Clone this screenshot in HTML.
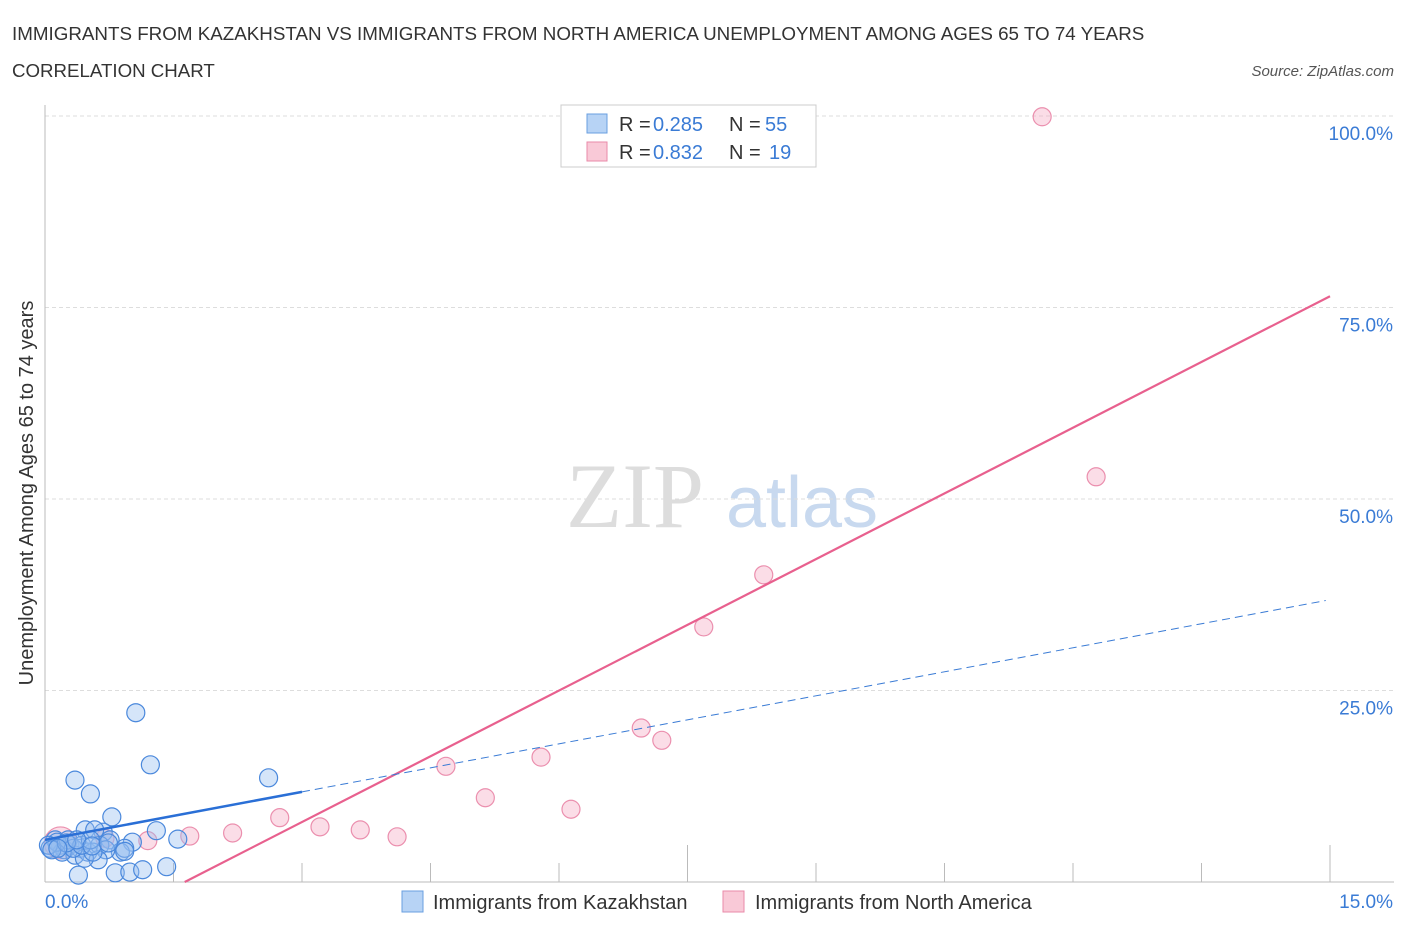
<!DOCTYPE html>
<html><head><meta charset="utf-8"><style>
body{margin:0;background:#fff;font-family:"Liberation Sans",sans-serif;}
</style></head><body>
<svg id="chart" width="1406" height="930" xmlns="http://www.w3.org/2000/svg" font-family="Liberation Sans, sans-serif">
<text x="12" y="40" font-size="18.8" fill="#333">IMMIGRANTS FROM KAZAKHSTAN VS IMMIGRANTS FROM NORTH AMERICA UNEMPLOYMENT AMONG AGES 65 TO 74 YEARS</text>
<text x="12" y="77" font-size="18.7" fill="#333">CORRELATION CHART</text>
<text x="1394" y="76" font-size="15" fill="#555" font-style="italic" text-anchor="end">Source: ZipAtlas.com</text>
<g>
<text x="635" y="527" font-size="92" fill="#ddd" font-family="Liberation Serif, serif" text-anchor="middle">ZIP</text>
<text x="802" y="527" font-size="72" fill="#c8d9ef" text-anchor="middle">atlas</text>
</g>
<g id="grid"></g>
<g id="axes"></g>
<g id="marks"></g>
<text transform="translate(33,493) rotate(-90)" font-size="20" fill="#333" text-anchor="middle">Unemployment Among Ages 65 to 74 years</text>
<g>
<rect x="561" y="105" width="255" height="62" fill="#fff" stroke="#ccc"/>
<rect x="587" y="114" width="20" height="19" fill="#b7d3f5" stroke="#6a9fe0"/>
<rect x="587" y="142" width="20" height="19" fill="#f9c9d7" stroke="#e98aa8"/>
<text x="619" y="131" font-size="20" fill="#333">R =</text>
<text x="653" y="131" font-size="20" fill="#3a7bd5">0.285</text>
<text x="729" y="131" font-size="20" fill="#333">N =</text>
<text x="765" y="131" font-size="20" fill="#3a7bd5">55</text>
<text x="619" y="159" font-size="20" fill="#333">R =</text>
<text x="653" y="159" font-size="20" fill="#3a7bd5">0.832</text>
<text x="729" y="159" font-size="20" fill="#333">N =</text>
<text x="769" y="159" font-size="20" fill="#3a7bd5">19</text>
</g>
<g>
<rect x="402" y="891" width="21" height="21" fill="#b7d3f5" stroke="#6a9fe0"/>
<text x="433" y="909" font-size="20" fill="#333">Immigrants from Kazakhstan</text>
<rect x="723" y="891" width="21" height="21" fill="#f9c9d7" stroke="#e98aa8"/>
<text x="755" y="909" font-size="20" fill="#333">Immigrants from North America</text>
</g>
</svg>
<script>
const blueX=[1.06,1.23,0.35,0.53,2.61,0.78,1.30,1.55,1.02,0.68,0.47,0.58,0.76,0.88,0.93,0.18,0.12,0.06,0.23,0.29,0.41,0.35,0.50,0.64,0.71,0.62,0.46,0.39,0.82,0.99,1.14,1.42,0.56,0.20,0.14,0.04,0.08,0.27,0.33,0.43,0.53,0.25,0.15,0.37,0.55,0.74,0.93];
const blueY=[22.1,15.3,13.3,11.5,13.6,8.5,6.7,5.6,5.2,6.5,6.8,6.8,5.5,3.9,4.4,4.8,5.5,4.4,4.2,4.8,4.4,3.5,3.9,4.8,4.2,2.9,3.1,0.9,1.2,1.3,1.6,2.0,3.9,3.9,5.2,4.8,4.2,5.5,4.4,4.8,5.5,5.1,4.4,5.5,4.7,5.1,4.0];
const pinkX=[11.64,12.27,8.39,7.69,6.96,7.20,5.79,4.68,5.14,6.14,2.74,3.21,3.68,4.11,2.19,1.69,1.20,0.70,0.18];
const pinkY=[99.9,52.9,40.1,33.3,20.1,18.5,16.3,15.1,11.0,9.5,8.4,7.2,6.8,5.9,6.4,6.0,5.4,5.7,5.1];
const pinkR=[9,9,9,9,9,9,9,9,9,9,9,9,9,9,9,9,9,9,16];
const blueTrend=[5.5,2.09];
const pinkTrend=[-9.33,5.72];
const yTicks=[25,50,75,100];
const yTickLabels=["25.0%","50.0%","75.0%","100.0%"];
const xTicks=[1.5,3,4.5,6,7.5,9,10.5,12,13.5,15];
const xMajor=[7.5,15];

const NS="http://www.w3.org/2000/svg";
const sx=v=>45+v*(1285/15);
const sy=v=>882-v*7.66;
function mk(parent,tag,attrs){const e=document.createElementNS(NS,tag);for(const k in attrs)e.setAttribute(k,attrs[k]);document.getElementById(parent).appendChild(e);return e;}

yTicks.forEach((t,i)=>{
 const g=mk('grid','line',{x1:45,x2:1394,y1:sy(t),y2:sy(t),stroke:'#ddd','stroke-dasharray':'4,3'});
 
 
 const l=mk('axes','text',{x:1393,y:sy(t)+24,'font-size':19,fill:'#3a7bd5','text-anchor':'end'});
 l.textContent=yTickLabels[i];
 
 
});
const ya=mk('axes','line',{x1:45,x2:45,y1:105,y2:882,stroke:'#bbb'});


const xa=mk('axes','line',{x1:45,x2:1394,y1:882,y2:882,stroke:'#bbb'});


xTicks.forEach(t=>{
 const top=xMajor.includes(t)?845:863;
 const tk=mk('axes','line',{x1:sx(t),x2:sx(t),y1:top,y2:882,stroke:'#bbb'});
 
 
});
const x0=mk('axes','text',{x:45,y:908,'font-size':19,fill:'#3a7bd5'});x0.textContent='0.0%';


const x1=mk('axes','text',{x:1393,y:908,'font-size':19,fill:'#3a7bd5','text-anchor':'end'});x1.textContent='15.0%';



pinkX.forEach((x,i)=>{
 const c=mk('marks','circle',{cx:sx(x),cy:sy(pinkY[i]),r:pinkR[i],fill:'rgba(246,170,195,0.4)',stroke:'#eb8fae','stroke-width':1.2});
 
 
});
blueX.forEach((x,i)=>{
 const c=mk('marks','circle',{cx:sx(x),cy:sy(blueY[i]),r:9,fill:'rgba(150,190,240,0.4)',stroke:'#4a88dc','stroke-width':1.2});
 
 
});
const px0=-pinkTrend[0]/pinkTrend[1];
const pl=mk('marks','line',{x1:sx(px0),y1:sy(0),x2:sx(15),y2:sy(pinkTrend[0]+pinkTrend[1]*15),stroke:'#e8608e','stroke-width':2.2});


const bl=mk('marks','line',{x1:sx(0),y1:sy(blueTrend[0]),x2:sx(3),y2:sy(blueTrend[0]+blueTrend[1]*3),stroke:'#2a6fd6','stroke-width':2.5});


const bd=mk('marks','line',{x1:sx(3),y1:sy(blueTrend[0]+blueTrend[1]*3),x2:sx(14.95),y2:sy(blueTrend[0]+blueTrend[1]*14.95),stroke:'#3a7bd5','stroke-width':1,'stroke-dasharray':'8,5'});


</script>
</body></html>
